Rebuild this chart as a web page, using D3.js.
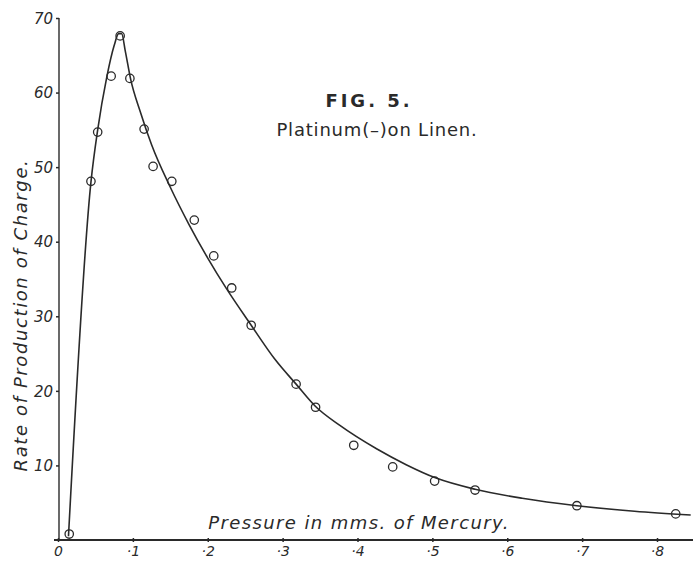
<!DOCTYPE html>
<html><head><meta charset="utf-8">
<script src="https://cdn.jsdelivr.net/npm/d3@7"></script>
<style>html,body{margin:0;padding:0;background:#fff}</style>
</head><body>
<svg id="c" width="693" height="571"></svg>
<script>
// Observed points (pressure in mm Hg, rate)
const obsX = [0.015,0.044,0.053,0.071,0.083,0.096,0.115,0.127,0.152,0.182,0.208,0.232,0.258,0.318,0.344,0.395,0.447,0.503,0.557,0.693,0.825];
const obsY = [0.8,48.1,54.7,62.2,67.6,61.9,55.1,50.1,48.1,42.9,38.1,33.8,28.8,20.9,17.8,12.7,9.8,7.9,6.7,4.6,3.5];
// Drawn smooth curve
const curveX = [0.014,0.044,0.053,0.065,0.075,0.081,0.085,0.090,0.097,0.110,0.125,0.150,0.175,0.200,0.225,0.258,0.290,0.318,0.344,0.376,0.426,0.465,0.505,0.557,0.620,0.693,0.770,0.845];
const curveY = [0.5,48,55,62,66.3,67.9,67.9,65.5,61.8,57.4,53,47.3,42.3,37.8,33.7,28.8,24.2,20.9,17.9,15.4,12.2,10.1,8.3,6.8,5.6,4.6,3.85,3.35];
const xTicks = [0,0.1,0.2,0.3,0.4,0.5,0.6,0.7,0.8];
const xTickLabels = ["0","·1","·2","·3","·4","·5","·6","·7","·8"];
const yTicks = [10,20,30,40,50,60,70];
const yTickLabels = ["10","20","30","40","50","60","70"];

const svg = d3.select("#c");
const ink = "#2a2a2a";
const x = d3.scaleLinear().domain([0,0.8]).range([58,657]);
const y = d3.scaleLinear().domain([0,70]).range([540,18]);

// axes lines
svg.append("line").attr("x1",54).attr("x2",693).attr("y1",y(0)).attr("y2",y(0))
  .attr("stroke",ink).attr("stroke-width",2);
svg.append("line").attr("x1",x(0)+1).attr("x2",x(0)+1).attr("y1",y(0)).attr("y2",y(70))
  .attr("stroke",ink).attr("stroke-width",1.4);

// y ticks
const yAxis = d3.axisLeft(y).tickValues(yTicks).tickSize(3).tickFormat((d,i)=>yTickLabels[i]);
const gy = svg.append("g").attr("transform",`translate(${x(0)+1},0)`).call(yAxis);
gy.select(".domain").remove();
gy.selectAll(".tick line").attr("stroke",ink).attr("stroke-width",1.5);
gy.selectAll(".tick text").attr("fill",ink).attr("font-family","DejaVu Sans, sans-serif")
  .attr("font-style","italic").attr("font-size",15).attr("x",-6).attr("dy","0.35em");

// x ticks
const xAxis = d3.axisBottom(x).tickValues(xTicks).tickSize(3).tickFormat((d,i)=>xTickLabels[i]);
const gx = svg.append("g").attr("transform",`translate(0,${y(0)})`).call(xAxis);
gx.select(".domain").remove();
gx.selectAll(".tick line").attr("stroke",ink).attr("stroke-width",1.5).attr("y1",-2).attr("y2",2);
gx.selectAll(".tick text").attr("fill",ink).attr("font-family","DejaVu Sans, sans-serif")
  .attr("font-style","italic").attr("font-size",14).attr("y",6).attr("dy","0.71em");

// curve
const pts = curveX.map((d,i)=>[d,curveY[i]]);
svg.append("path").datum(pts)
  .attr("d", d3.line().x(d=>x(d[0])).y(d=>y(d[1])).curve(d3.curveMonotoneX))
  .attr("fill","none").attr("stroke",ink).attr("stroke-width",1.6);

// points
svg.append("g").selectAll("circle").data(obsX.map((d,i)=>[d,obsY[i]])).join("circle")
  .attr("cx",d=>x(d[0])).attr("cy",d=>y(d[1])).attr("r",4.2)
  .attr("fill","none").attr("stroke",ink).attr("stroke-width",1.3);

// titles
svg.append("text").attr("x",369).attr("y",107).attr("text-anchor","middle")
  .attr("font-family","DejaVu Sans, sans-serif").attr("font-weight","bold").attr("font-size",18)
  .attr("letter-spacing",3).attr("fill",ink).text("FIG. 5.");
svg.append("text").attr("x",377).attr("y",136).attr("text-anchor","middle")
  .attr("font-family","DejaVu Sans, sans-serif").attr("font-size",18)
  .attr("letter-spacing",0.8).attr("fill",ink).text("Platinum(–)on Linen.");

// axis labels
svg.append("text").attr("x",359).attr("y",529).attr("text-anchor","middle")
  .attr("font-family","DejaVu Sans, sans-serif").attr("font-style","italic").attr("font-size",18)
  .attr("letter-spacing",1.4).attr("fill",ink).text("Pressure in mms. of Mercury.");
svg.append("text").attr("transform","translate(27,315) rotate(-90)").attr("text-anchor","middle")
  .attr("font-family","DejaVu Sans, sans-serif").attr("font-style","italic").attr("font-size",18)
  .attr("letter-spacing",1.6).attr("fill",ink).text("Rate of Production of Charge.");
</script>
</body></html>
